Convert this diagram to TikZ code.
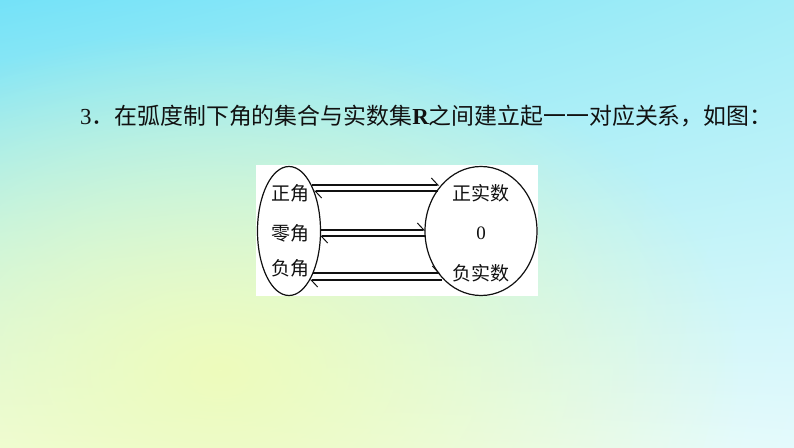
\documentclass[tikz,border=0pt]{standalone}
\usepackage{fontspec}
\setmainfont{Liberation Serif}
\newfontfamily\cjk{Noto Sans CJK SC}
\usetikzlibrary{shapes.geometric,arrows.meta,fadings,shadings}
\definecolor{bgUL}{HTML}{74E2F8}
\definecolor{bgUR}{HTML}{A4EDF7}
\definecolor{bgLL}{HTML}{F2FCE6}
\definecolor{bgLR}{HTML}{E4FAFC}
\definecolor{bgY}{HTML}{EEFCBC}
\definecolor{ink}{HTML}{111111}
\tikzfading[name=blobfade, inner color=transparent!0, outer color=transparent!100]
\tikzset{
  setell/.style={draw=ink, line width=1.2pt, ellipse, inner sep=0pt},
  lbl/.style={text=ink, inner sep=0pt, font=\cjk\fontsize{19}{21}\selectfont},
  numlbl/.style={text=ink, inner sep=0pt, font=\fontsize{19}{21}\selectfont},
  conn/.style={draw=ink, line width=1.9pt},
  harp/.style={-{Straight Barb[left, length=6.5pt, width=14pt, line width=1pt]}}
}
\begin{document}
\begin{tikzpicture}[x=1pt,y=-1pt]
\useasboundingbox (0,0) rectangle (794,447);
\shade[upper left=bgUL, upper right=bgUR, lower left=bgLL, lower right=bgLR] (0,0) rectangle (794,447);
\fill[bgY, path fading=blobfade] (220,370) ellipse [x radius=520, y radius=340];
% title
\node[anchor=base west, text=ink, inner sep=0pt, font=\fontsize{22.9}{26}\selectfont] (title) at (80,124)
  {3{\cjk ．在弧度制下角的集合与实数集}\textbf{R}{\cjk 之间建立起一一对应关系，如图：}};
% diagram background
\fill[white] (256,165) rectangle (538,296);
% sets
\node[setell, minimum width=63pt, minimum height=129pt] (L) at (289,231) {};
\node[setell, minimum width=112pt, minimum height=129pt] (R) at (481,231) {};
\node[lbl] (la) at (290,193) {正角};
\node[lbl] (lb) at (290,233) {零角};
\node[lbl] (lc) at (290,268) {负角};
\node[lbl] (ra) at (481,193) {正实数};
\node[numlbl] (rb) at (481,233) {0};
\node[lbl] (rc) at (481,273) {负实数};
% connector end points
\coordinate (a1) at (312,185); \coordinate (b1) at (439,185);
\coordinate (a2) at (314,191); \coordinate (b2) at (438,191);
\coordinate (c1) at (320,230); \coordinate (d1) at (425,230);
\coordinate (c2) at (320,236); \coordinate (d2) at (425,236);
\coordinate (e1) at (313,273); \coordinate (f1) at (440,273);
\coordinate (e2) at (310,280); \coordinate (f2) at (442,280);
\draw[conn, harp] (a1) -- (b1);
\draw[conn, harp] (b2) -- (a2);
\draw[conn, harp] (c1) -- (d1);
\draw[conn, harp] (d2) -- (c2);
\draw[conn, harp] (e1) -- (f1);
\draw[conn, harp] (f2) -- (e2);
\end{tikzpicture}
\end{document}
